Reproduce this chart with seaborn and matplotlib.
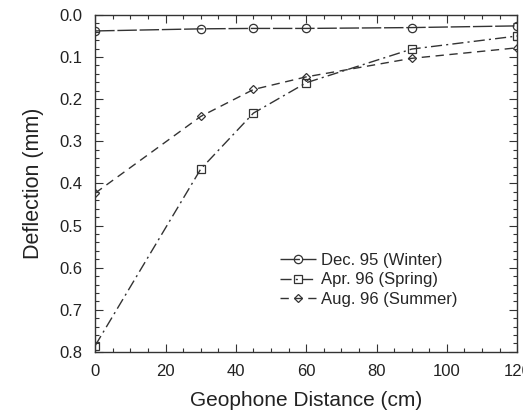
import matplotlib
matplotlib.use("Agg")
import matplotlib.pyplot as plt
from matplotlib.ticker import MultipleLocator, FormatStrFormatter
import seaborn as sns

# geophone distances (cm) and deflections (mm)
distance = [0, 30, 45, 60, 90, 120]
winter = [0.038, 0.033, 0.032, 0.032, 0.030, 0.026]
spring = [0.785, 0.366, 0.233, 0.161, 0.081, 0.050]
summer = [0.423, 0.241, 0.177, 0.147, 0.103, 0.078]
labels = ["Dec. 95 (Winter)", "Apr. 96 (Spring)", "Aug. 96 (Summer)"]

sns.set_style("ticks")
plt.rcParams["font.family"] = ["Liberation Sans", "DejaVu Sans"]

fig, ax = plt.subplots(figsize=(5.23, 4.15), dpi=100)
fig.subplots_adjust(left=0.182, right=0.989, top=0.964, bottom=0.152)

col = "#333333"
styles = [
    (winter, "o", (0, (14, 2)), 6),
    (spring, "s", (0, (8, 3, 1.5, 3)), 5.5),
    (summer, "D", (0, (6, 4)), 4),
]
for (vals, mk, ls, ms), lab in zip(styles, labels):
    sns.lineplot(x=distance, y=vals, ax=ax, marker=mk, markersize=ms,
                 markerfacecolor="none", markeredgecolor=col, markeredgewidth=0.9,
                 color=col, linewidth=1.0, linestyle=ls, label=lab)

ax.set_xlim(0, 120)
ax.set_ylim(0.8, 0.0)
ax.xaxis.set_major_locator(MultipleLocator(20))
ax.xaxis.set_minor_locator(MultipleLocator(5))
ax.yaxis.set_major_locator(MultipleLocator(0.1))
ax.yaxis.set_minor_locator(MultipleLocator(0.02))
ax.yaxis.set_major_formatter(FormatStrFormatter("%.1f"))
ax.tick_params(which="both", direction="in", top=True, right=True, colors=col,
               labelcolor="#222222", labelsize=12, width=0.8)
ax.tick_params(which="major", length=6, pad=9)
ax.tick_params(which="minor", length=3)
for s in ax.spines.values():
    s.set_visible(True)
    s.set_linewidth(1.0)
    s.set_color(col)

ax.set_xlabel("Geophone Distance (cm)", fontsize=15, color="#222222", labelpad=8)
ax.set_ylabel("Deflection (mm)", fontsize=15.5, color="#222222", labelpad=11)

ax.legend(loc="lower right", bbox_to_anchor=(0.895, 0.09), frameon=False,
          fontsize=12, handlelength=2.2, handletextpad=0.3, labelspacing=0.25)

fig.savefig("out.png", dpi=100)
